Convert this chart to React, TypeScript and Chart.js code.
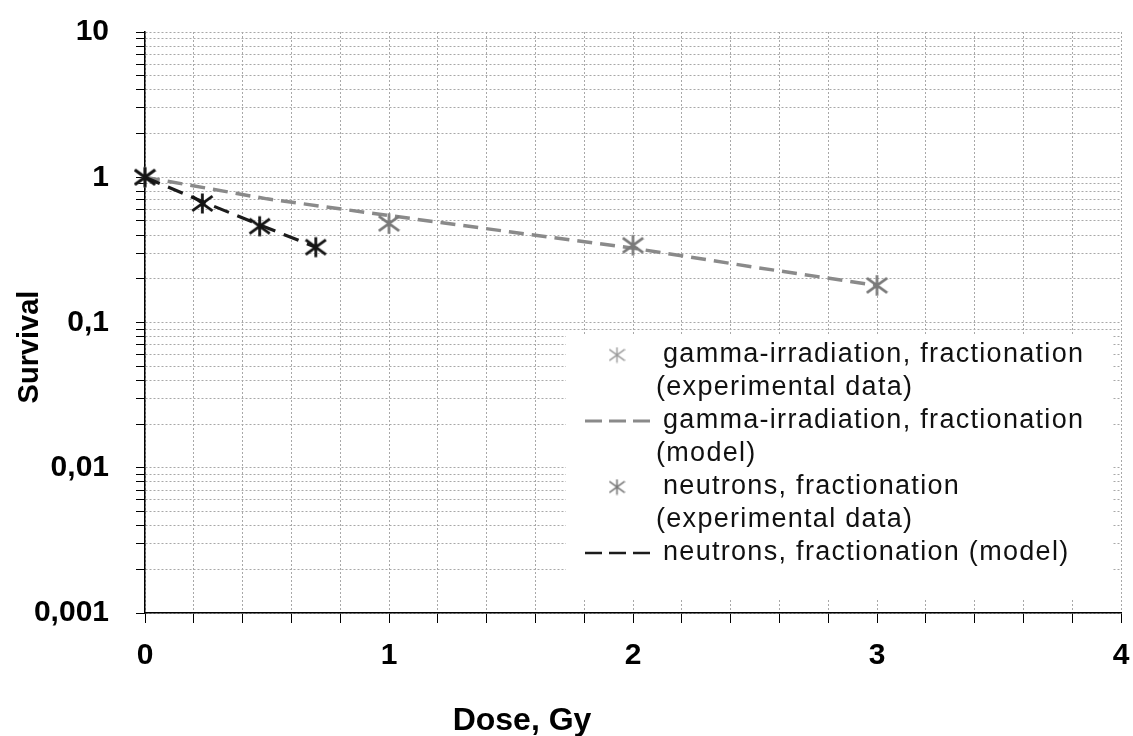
import React, { useEffect, useRef } from 'react';
import { Chart, registerables } from 'chart.js';

Chart.register(...registerables);

// ---- data ----
const gammaExpDose = [0, 1, 2, 3];
const gammaExpSurvival = [1, 0.48, 0.34, 0.18];

const gammaModelDose = [0, 0.5, 1, 1.5, 2, 2.5, 3];
const gammaModelSurvival = [1, 0.71, 0.545, 0.42, 0.325, 0.24, 0.18];

const neutronExpDose = [0, 0.235, 0.47, 0.7];
const neutronExpSurvival = [1, 0.66, 0.46, 0.33];

const neutronModelDose = [0, 0.235, 0.47, 0.7];
const neutronModelSurvival = [1, 0.68, 0.47, 0.33];

const legendLabels = [
  ['gamma-irradiation, fractionation', '(experimental data)'],
  ['gamma-irradiation, fractionation', '(model)'],
  ['neutrons, fractionation', '(experimental data)'],
  ['neutrons, fractionation (model)'],
];

const yDecadeValues = [0.001, 0.01, 0.1, 1, 10];
const yDecadeLabels = ['0,001', '0,01', '0,1', '1', '10'];
const yMinorMultipliers = [1, 2, 3, 4, 5, 6, 7, 8, 9];
const xTickLabels = ['0', '1', '2', '3', '4'];
const xAxisTitle = 'Dose, Gy';
const yAxisTitle = 'Survival';

const FONT = '"Liberation Sans", Arial, Helvetica, sans-serif';

function toPoints(xs: number[], ys: number[]) {
  return xs.map((x, i) => ({ x, y: ys[i] }));
}

function makeAsterisk(w: number, h: number, color: string, lw: number) {
  const c = document.createElement('canvas');
  c.width = w;
  c.height = h;
  const g = c.getContext('2d')!;
  g.strokeStyle = color;
  g.lineWidth = lw;
  g.lineCap = 'butt';
  const cx = w / 2;
  const cy = h / 2;
  const rx = w / 2 - lw / 2;
  const ry = h / 2 - lw / 2;
  g.beginPath();
  g.moveTo(cx, cy - ry);
  g.lineTo(cx, cy + ry);
  g.moveTo(cx - rx, cy - ry * 0.72);
  g.lineTo(cx + rx, cy + ry * 0.72);
  g.moveTo(cx - rx, cy + ry * 0.72);
  g.lineTo(cx + rx, cy - ry * 0.72);
  g.stroke();
  return c;
}

export default function App() {
  const canvasRef = useRef<HTMLCanvasElement | null>(null);

  useEffect(() => {
    const canvas = canvasRef.current;
    if (!canvas) return;

    const gammaColor = '#7a7a7a';
    const neutronColor = '#141414';
    const gammaStar = makeAsterisk(23, 23, gammaColor, 2.6);
    const neutronStar = makeAsterisk(23, 23, neutronColor, 2.8);
    const gammaLegendStar = makeAsterisk(17, 17, '#9a9a9a', 1.4);
    const neutronLegendStar = makeAsterisk(17, 17, '#777777', 1.6);

    const yTicks: number[] = [];
    yDecadeValues.slice(0, -1).forEach((d) => {
      yMinorMultipliers.forEach((m) => yTicks.push(+(d * m).toPrecision(6)));
    });
    yTicks.push(yDecadeValues[yDecadeValues.length - 1]);

    const overlay = {
      id: 'overlay',
      afterDraw(chart: any) {
        const ctx = chart.ctx as CanvasRenderingContext2D;
        ctx.save();
        // axis titles
        ctx.fillStyle = '#000';
        ctx.font = `bold 32px ${FONT}`;
        ctx.textAlign = 'center';
        ctx.textBaseline = 'alphabetic';
        ctx.fillText(xAxisTitle, 522, 730);
        ctx.save();
        ctx.translate(30, 347);
        ctx.rotate(-Math.PI / 2);
        ctx.font = `bold 29px ${FONT}`;
        ctx.textBaseline = 'middle';
        ctx.fillText(yAxisTitle, 0, 0);
        ctx.restore();

        // legend box
        const boxL = 566, boxT = 334, boxR = 1112, boxB = 600;
        ctx.fillStyle = '#ffffff';
        ctx.fillRect(boxL, boxT, boxR - boxL, boxB - boxT);

        const rowH = 33;
        let y = 355;
        const markerX = 617;
        const lineX1 = 585, lineX2 = 650;
        const ds = chart.data.datasets;
        legendLabels.forEach((lines, i) => {
          const d = ds[i];
          if (i === 0 || i === 2) {
            const img = i === 0 ? gammaLegendStar : neutronLegendStar;
            ctx.drawImage(img, markerX - img.width / 2, y - img.height / 2);
          } else {
            ctx.save();
            ctx.strokeStyle = d.borderColor;
            ctx.lineWidth = d.borderWidth - 0.5;
            ctx.setLineDash([17, 7]);
            ctx.beginPath();
            ctx.moveTo(lineX1, y);
            ctx.lineTo(lineX2, y);
            ctx.stroke();
            ctx.restore();
          }
          ctx.fillStyle = '#111';
          ctx.font = `27px ${FONT}`;
          (ctx as any).letterSpacing = '1.3px';
          ctx.textAlign = 'left';
          ctx.textBaseline = 'middle';
          lines.forEach((t, k) => {
            ctx.fillText(t, k === 0 ? 663 : 656, y);
            y += rowH;
          });
        });
        ctx.restore();
      },
    };

    const chart = new Chart(canvas, {
      type: 'line',
      data: {
        datasets: [
          {
            label: legendLabels[0].join(' '),
            data: toPoints(gammaExpDose, gammaExpSurvival),
            showLine: false,
            pointStyle: gammaStar as any,
            pointRadius: 11,
            borderColor: gammaColor,
            backgroundColor: gammaColor,
            order: 3,
          },
          {
            label: legendLabels[1].join(' '),
            data: toPoints(gammaModelDose, gammaModelSurvival),
            borderColor: '#8a8a8a',
            borderWidth: 3.5,
            borderDash: [15, 8],
            pointRadius: 0,
            tension: 0,
            order: 4,
          },
          {
            label: legendLabels[2].join(' '),
            data: toPoints(neutronExpDose, neutronExpSurvival),
            showLine: false,
            pointStyle: neutronStar as any,
            pointRadius: 11,
            borderColor: neutronColor,
            backgroundColor: neutronColor,
            order: 1,
          },
          {
            label: legendLabels[3].join(' '),
            data: toPoints(neutronModelDose, neutronModelSurvival),
            borderColor: '#1c1c1c',
            borderWidth: 3.2,
            borderDash: [16, 9],
            pointRadius: 0,
            tension: 0,
            order: 2,
          },
        ] as any,
      },
      options: {
        animation: false,
        responsive: false,
        devicePixelRatio: 1,
        clip: false as any,
        layout: { padding: { top: 32, left: 0, right: 9, bottom: 0 } },
        plugins: {
          legend: { display: false },
          tooltip: { enabled: false },
        },
        scales: {
          x: {
            type: 'linear',
            min: 0,
            max: 4,
            afterFit: (scale: any) => {
              scale.height = 123;
              scale.paddingLeft = 0;
              scale.paddingRight = 0;
            },
            ticks: {
              stepSize: 0.2,
              autoSkip: false,
              maxRotation: 0,
              padding: 15,
              color: '#000',
              font: { family: FONT, size: 30, weight: 'bold' },
              callback: (v: any) => {
                const n = Number(v);
                const r = Math.round(n);
                return Math.abs(n - r) < 1e-6 ? xTickLabels[r] ?? '' : '';
              },
            },
            grid: {
              color: '#a8a8a8',
              lineWidth: 1,
              tickColor: '#000',
              tickLength: 10,
              tickWidth: 1,
            },
            border: { display: true, color: '#000', width: 1.5, dash: [2, 2] },
          },
          y: {
            type: 'logarithmic',
            min: 0.001,
            max: 10,
            afterFit: (scale: any) => {
              scale.width = 145;
              scale.paddingTop = 0;
              scale.paddingBottom = 0;
            },
            afterBuildTicks: (scale: any) => {
              scale.ticks = yTicks.map((v) => ({ value: v }));
            },
            ticks: {
              autoSkip: false,
              padding: 27,
              color: '#000',
              font: { family: FONT, size: 30, weight: 'bold' },
              callback: (v: any) => {
                const n = Number(v);
                const idx = yDecadeValues.findIndex((d) => Math.abs(d - n) / d < 1e-6);
                return idx >= 0 ? yDecadeLabels[idx] : '';
              },
            },
            grid: {
              color: '#a8a8a8',
              lineWidth: 1,
              tickColor: '#000',
              tickLength: 9,
              tickWidth: 1,
            },
            border: { display: true, color: '#000', width: 1.5, dash: [2, 2] },
          },
        },
      } as any,
      plugins: [overlay],
    });

    return () => {
      chart.destroy();
    };
  }, []);

  return (
    <div style={{ position: 'absolute', left: 0, top: 0, width: 1133, height: 736, background: '#fff' }}>
      <canvas ref={canvasRef} width={1133} height={736} style={{ display: 'block' }} />
    </div>
  );
}
